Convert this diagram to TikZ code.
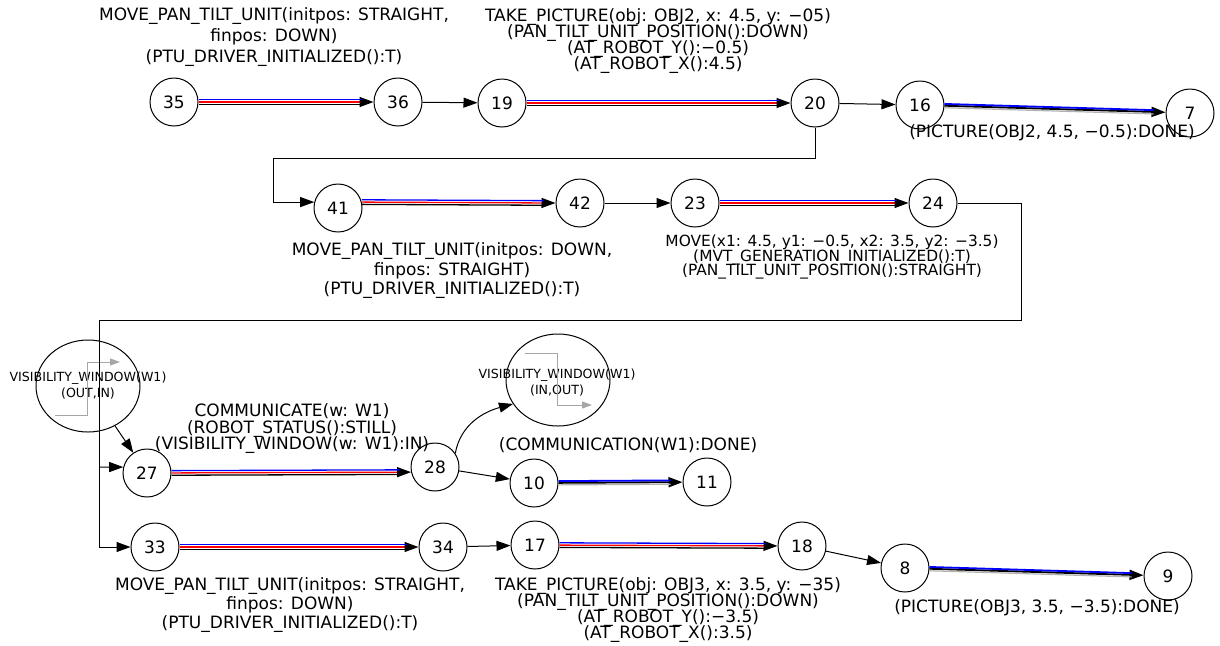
\documentclass[tikz,border=0pt]{standalone}
\usepackage{fontspec}
\setmainfont{DejaVu Sans}
\usetikzlibrary{shapes,arrows.meta,positioning}
\setlength{\lineskiplimit}{-20pt}

\tikzset{
  st/.style={circle, draw, line width=0.5pt, minimum size=24pt, inner sep=0pt,
    font=\fontsize{8.5}{10}\selectfont},
  win/.style={ellipse, draw, line width=0.5pt, minimum width=52pt, minimum height=46pt, inner sep=0pt},
  wintxt/.style={align=center, inner sep=0pt, font=\fontsize{6.3}{8}\selectfont},
  lbl/.style={align=center, inner sep=0pt, font=\fontsize{8.5}{#1}\selectfont},
  lbl/.default=10,
  arr/.style={line width=0.5pt, -{Triangle[length=7pt,width=5pt]}},
  tri/.style={draw=red, line width=0.65pt, -{Triangle[length=7pt,width=5pt,color=black]},
    postaction={draw=blue, -, shorten >=6pt, transform canvas={yshift=1.15pt}},
    postaction={draw=black, -, shorten >=6pt, transform canvas={yshift=-1.15pt}}},
  duo/.style={draw=black, line width=0.9pt, -{Triangle[length=7pt,width=5pt]},
    postaction={draw=blue, -, shorten >=6pt, transform canvas={yshift=0.9pt}},
    postaction={draw=black!30, line width=0.6pt, -, shorten >=6pt, transform canvas={yshift=-1pt}}},
  stepln/.style={draw=black!35, line width=0.5pt, -{Triangle[length=5pt,width=3.5pt]}}
}

\begin{document}
\begin{tikzpicture}[x=0.5pt,y=-0.5pt]
  \useasboundingbox (0,0) rectangle (1220,645);

  % etats
  \node[st] (n35) at (174,102) {35};
  \node[st] (n36) at (398,102) {36};
  \node[st] (n19) at (502,103) {19};
  \node[st] (n20) at (815,103) {20};
  \node[st] (n16) at (920,105) {16};
  \node[st] (n7) at (1190,113) {7};
  \node[st] (n41) at (338,208) {41};
  \node[st] (n42) at (580,203) {42};
  \node[st] (n23) at (695,203) {23};
  \node[st] (n24) at (933,203) {24};
  \node[win] (vw1) at (88,386) {};
  \node[st] (n27) at (147,473) {27};
  \node[st] (n28) at (435,467) {28};
  \node[win] (vw2) at (558,380) {};
  \node[st] (n10) at (534,483) {10};
  \node[st] (n11) at (707,482) {11};
  \node[st] (n33) at (155,547) {33};
  \node[st] (n34) at (443,547) {34};
  \node[st] (n17) at (535,545) {17};
  \node[st] (n18) at (802,546) {18};
  \node[st] (n8) at (905,568) {8};
  \node[st] (n9) at (1168,576) {9};

  \node[wintxt] at (vw1) {VISIBILITY\_WINDOW(W1)\\(OUT,IN)};
  \node[wintxt] at (557,383) {VISIBILITY\_WINDOW(W1)\\(IN,OUT)};
  \draw[stepln] ([shift={(-33,29)}]vw1.center) -- ++(32,0) -- ++(0,-53) -- ++(33,0);
  \draw[stepln] ([shift={(-33,-27)}]vw2.center) -- ++(32,0) -- ++(0,52) -- ++(35,0);

  % etiquettes
  \node[lbl=10.5] (l35) at (274,37) {MOVE\_PAN\_TILT\_UNIT(initpos: STRAIGHT,\\finpos: DOWN)\\(PTU\_DRIVER\_INITIALIZED():T)};
  \node[lbl=8] (l19) at (658,41) {TAKE\_PICTURE(obj: OBJ2, x: 4.5, y: −05)\\(PAN\_TILT\_UNIT\_POSITION():DOWN)\\(AT\_ROBOT\_Y():−0.5)\\(AT\_ROBOT\_X():4.5)};
  \node[lbl] (l16) at (1052,133) {(PICTURE(OBJ2, 4.5, −0.5):DONE)};
  \node[lbl=9.75] (l41) at (452,271) {MOVE\_PAN\_TILT\_UNIT(initpos: DOWN,\\finpos: STRAIGHT)\\(PTU\_DRIVER\_INITIALIZED():T)};
  \node[lbl, font=\fontsize{7.7}{7.2}\selectfont] (l23) at (832,257) {MOVE(x1: 4.5, y1: −0.5, x2: 3.5, y2: −3.5)\\(MVT\_GENERATION\_INITIALIZED():T)\\(PAN\_TILT\_UNIT\_POSITION():STRAIGHT)};
  \node[lbl=8.25] (l27) at (292,429) {COMMUNICATE(w: W1)\\(ROBOT\_STATUS():STILL)\\(VISIBILITY\_WINDOW(w: W1):IN)};
  \node[lbl] (l10) at (628,445) {(COMMUNICATION(W1):DONE)};
  \node[lbl=9.5] (l33) at (290,605) {MOVE\_PAN\_TILT\_UNIT(initpos: STRAIGHT,\\finpos: DOWN)\\(PTU\_DRIVER\_INITIALIZED():T)};
  \node[lbl=8] (l17) at (668,610) {TAKE\_PICTURE(obj: OBJ3, x: 3.5, y: −35)\\(PAN\_TILT\_UNIT\_POSITION():DOWN)\\(AT\_ROBOT\_Y():−3.5)\\(AT\_ROBOT\_X():3.5)};
  \node[lbl] (l8) at (1037,608) {(PICTURE(OBJ3, 3.5, −3.5):DONE)};

  % transitions
  \draw[tri] (n35) -- (n36);
  \draw[tri] (n19) -- (n20);
  \draw[tri] (n41.14) -- (n42.west);
  \draw[tri] (n23) -- (n24);
  \draw[tri] (n27) -- (n28.192);
  \draw[tri] (n33) -- (n34);
  \draw[tri] (n17) -- (n18);
  \draw[duo] (n16) -- (n7);
  \draw[duo] (n10) -- (n11);
  \draw[duo] (n8) -- (n9);

  \draw[arr] (n36) -- (n19);
  \draw[arr] (n20) -- (n16);
  \draw[arr] (n42) -- (n23);
  \draw[arr] (n34) -- (n17);
  \draw[arr] (n18) -- (n8);
  \draw[arr] (n28) -- (n10);
  \draw[arr] (vw1) -- (n27);
  \draw[arr] (n28.34) to[out=80,in=195] (vw2.208);

  \coordinate (t1) at (815,158);
  \coordinate (t2) at (273,158);
  \draw[arr] (n20) -- (t1) -- (t2) |- (n41.166);

  \coordinate (r1) at (1021,203);
  \coordinate (r2) at (1021,320);
  \coordinate (r3) at (99,320);
  \coordinate (r4) at (99,467);
  \draw (n24) -- (r1) -- (r2) -- (r3) -- (r4);
  \draw[arr] (r4) -- (n27.166);
  \draw[arr] (r4) |- (n33);
\end{tikzpicture}
\end{document}
